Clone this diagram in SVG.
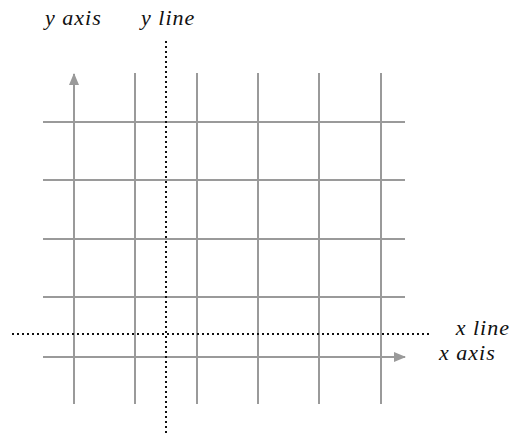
<svg xmlns="http://www.w3.org/2000/svg" width="512" height="442" viewBox="0 0 512 442">
<style>
.g{stroke:#9a9a9a;stroke-width:2;fill:none}
.d{stroke:#111;stroke-width:2;stroke-dasharray:2 3;fill:none}
.t{font-family:"Liberation Serif","Times New Roman",serif;font-style:italic;font-size:22px;letter-spacing:1px;fill:#111}
</style>
<defs>
<marker id="ah" markerWidth="12" markerHeight="10" refX="11" refY="5" orient="auto" markerUnits="userSpaceOnUse">
<path d="M0,0 L12,5 L0,10 Z" fill="#9a9a9a"/>
</marker>
</defs>
<g id="grid">
<line class="g" x1="135" y1="73" x2="135" y2="404"/>
<line class="g" x1="197" y1="73" x2="197" y2="404"/>
<line class="g" x1="258" y1="73" x2="258" y2="404"/>
<line class="g" x1="319" y1="73" x2="319" y2="404"/>
<line class="g" x1="381" y1="73" x2="381" y2="404"/>
<line class="g" x1="43" y1="122" x2="405" y2="122"/>
<line class="g" x1="43" y1="180" x2="405" y2="180"/>
<line class="g" x1="43" y1="239" x2="405" y2="239"/>
<line class="g" x1="43" y1="297" x2="405" y2="297"/>
</g>
<g id="axes">
<line id="yaxis" class="g" x1="74" y1="404" x2="74" y2="74" marker-end="url(#ah)"/>
<line id="xaxis" class="g" x1="43" y1="357" x2="405" y2="357" marker-end="url(#ah)"/>
</g>
<g id="lines">
<line id="yline" class="d" x1="166" y1="41" x2="166" y2="436"/>
<line id="xline" class="d" x1="12" y1="334" x2="431" y2="334"/>
</g>
<g id="labels">
<text class="t" x="45" y="25">y axis</text>
<text class="t" x="141" y="25">y line</text>
<text class="t" x="510" y="335" text-anchor="end">x line</text>
<text class="t" x="439" y="360">x axis</text>
</g>
</svg>
